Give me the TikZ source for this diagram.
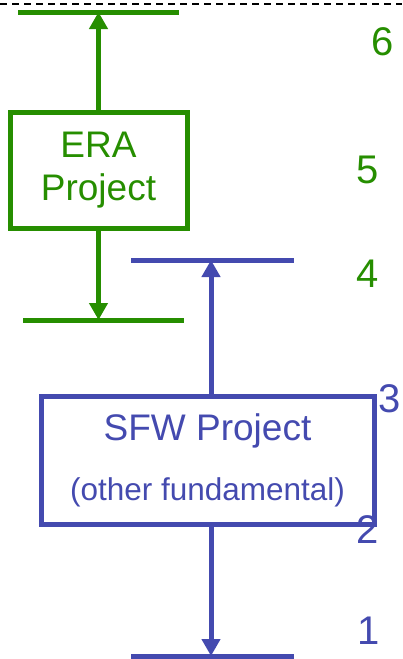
\documentclass[tikz,border=0pt]{standalone}
\usepackage{fontspec}
\setmainfont{Liberation Sans}
\usetikzlibrary{arrows.meta}
\definecolor{eragreen}{RGB}{38,142,0}
\definecolor{sfwblue}{RGB}{68,74,175}
\newcommand{\bigfont}{\fontsize{37}{46}\selectfont}
\newcommand{\smallfont}{\fontsize{31.5}{38}\selectfont}

\begin{document}
\begin{tikzpicture}[x=1pt,y=-1pt,line width=5pt,
  box/.style={draw,rectangle,align=center,inner sep=0pt,font=\bigfont},
  bar/.style={line cap=butt},
  up/.style={-{Triangle[width=18pt,length=17pt]}},
  level/.style={font=\fontsize{40}{48}\selectfont}]
    \useasboundingbox (0,0) rectangle (402,659);
    \draw[black,line width=2.5pt,dash pattern=on 7pt off 5pt] (0,4) -- (402,4);
    % ERA project, levels 4 to 6
    \begin{scope}[eragreen]
      \node[box,minimum width=177pt,minimum height=116pt] (era) at (98.5,170) {\raisebox{-3pt}{ERA}\\Project};
      \coordinate (eratop) at (98.5,12);
      \coordinate (erabot) at (98.5,320);
      \draw[bar] (18,12) -- (179,12);
      \draw[bar] (23,320) -- (184,320);
      \draw[up] (era.north) -- (eratop);
      \draw[up] (era.south) -- (erabot);
      \node[level] (l6) at (383,42) {6};
      \node[level] (l5) at (368,170) {5};
      \node[level] (l4) at (368,274) {4};
    \end{scope}
    % SFW project, levels 1 to 3
    \begin{scope}[sfwblue]
      \node[box,minimum width=333pt,minimum height=128pt] (sfw) at (207.5,460)
        {SFW Project\\[14pt]{\smallfont (other fundamental)}};
      \coordinate (sfwtop) at (211,260);
      \coordinate (sfwbot) at (211,656);
      \draw[bar] (131,260) -- (294,260);
      \draw[bar] (131,656) -- (294,656);
      \draw[up] (sfw.north -| sfwtop) -- (sfwtop);
      \draw[up] (sfw.south -| sfwbot) -- (sfwbot);
      \node[level] (l3) at (390,399) {3};
      \node[level] (l2) at (368,530) {2};
      \node[level] (l1) at (369,631) {1};
    \end{scope}
\end{tikzpicture}
\end{document}
